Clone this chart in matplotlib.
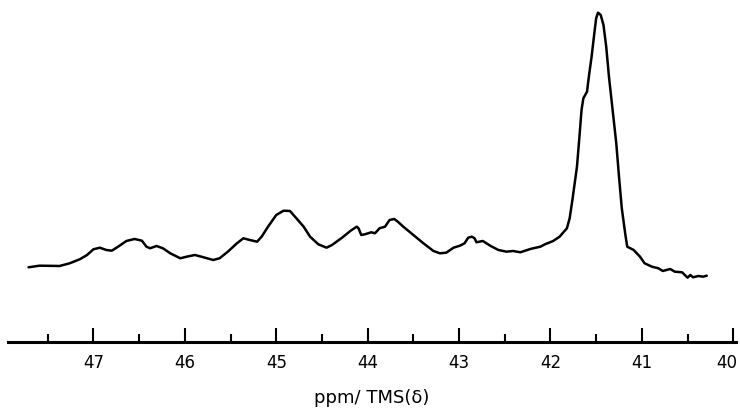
import matplotlib
matplotlib.use("Agg")
import matplotlib.pyplot as plt
import matplotlib.transforms as mtransforms
from matplotlib.ticker import MultipleLocator

# 13C spectrum (ppm vs TMS, intensity in arbitrary units)
ppm = [47.71, 47.59, 47.37, 47.26, 47.15, 47.07, 47.00, 46.93, 46.86, 46.80,
       46.73, 46.64, 46.55, 46.47, 46.42, 46.38, 46.31, 46.24, 46.16, 46.05,
       45.98, 45.89, 45.82, 45.69, 45.62, 45.53, 45.43, 45.36, 45.29, 45.21,
       45.16, 45.09, 45.00, 44.92, 44.85, 44.78, 44.70, 44.63, 44.54, 44.45,
       44.39, 44.28, 44.19, 44.12, 44.10, 44.07, 44.03, 43.96, 43.92, 43.87,
       43.81, 43.76, 43.71, 43.67, 43.61, 43.50, 43.39, 43.28, 43.21, 43.14,
       43.06, 42.99, 42.94, 42.90, 42.86, 42.83, 42.81, 42.74, 42.66, 42.57,
       42.48, 42.41, 42.33, 42.22, 42.11, 42.06, 41.97, 41.90, 41.82, 41.79,
       41.76, 41.71, 41.68, 41.66, 41.64, 41.60, 41.58, 41.55, 41.52, 41.50,
       41.48, 41.45, 41.42, 41.39, 41.36, 41.32, 41.28, 41.25, 41.22, 41.18,
       41.16, 41.09, 41.02, 40.97, 40.89, 40.82, 40.77, 40.69, 40.64, 40.56,
       40.53, 40.50, 40.47, 40.44, 40.38, 40.33, 40.29]
intensity = [74.7, 76.3, 76.0, 78.7, 82.7, 87.0, 92.7, 94.3, 92.0, 91.3,
             95.3, 101.0, 103.0, 101.3, 95.3, 93.7, 96.0, 93.7, 88.7, 83.7,
             85.3, 87.0, 85.3, 82.0, 83.7, 90.3, 98.7, 103.7, 102.0, 100.3,
             105.3, 115.3, 127.0, 131.3, 131.0, 123.7, 115.3, 105.3, 97.7, 94.3,
             97.0, 104.3, 111.0, 115.3, 113.7, 107.0, 107.7, 109.7, 108.7, 113.7,
             115.3, 122.0, 123.0, 120.3, 115.3, 107.0, 98.7, 91.0, 88.7, 89.3,
             94.3, 96.3, 98.7, 104.3, 105.3, 103.7, 99.7, 101.0, 96.3, 92.0,
             90.3, 91.0, 89.7, 93.0, 95.3, 97.7, 101.0, 105.3, 113.7, 123.7,
             142.0, 175.3, 208.7, 232.0, 243.7, 250.3, 265.3, 285.3, 308.7, 323.7,
             329.3, 327.0, 317.0, 295.3, 265.3, 232.0, 198.7, 165.3, 134.0, 107.0,
             95.3, 92.0, 85.3, 78.7, 75.3, 73.7, 71.0, 73.0, 70.3, 69.7,
             67.0, 64.3, 67.0, 64.7, 66.0, 65.3, 66.3]

major_ticks = [47, 46, 45, 44, 43, 42, 41, 40]
tick_labels = ["47", "46", "45", "44", "43", "42", "41", "40"]

fig = plt.figure(figsize=(7.4, 4.08), dpi=100)
ax = fig.add_axes([0.0108, 0.1618, 0.9838, 0.826])

ax.plot(ppm, intensity, color="black", lw=1.8,
        solid_joinstyle="round", solid_capstyle="round")

ax.set_xlim(47.935, 39.97)
ax.set_ylim(0, 337)

for side in ["top", "left", "right"]:
    ax.spines[side].set_visible(False)
ax.spines["bottom"].set_linewidth(2.2)
ax.set_yticks([])

ax.set_xticks(major_ticks)
ax.set_xticklabels(tick_labels)
ax.xaxis.set_minor_locator(MultipleLocator(0.5))
ax.tick_params(axis="x", which="major", direction="in", length=10, width=1.5,
               pad=9, labelsize=12)
ax.tick_params(axis="x", which="minor", direction="in", length=6, width=1.5)
ax.set_xlabel("ppm/ TMS(δ)", fontsize=13, labelpad=12)

# last label sits against the right edge, nudge it in a bit
last = ax.get_xticklabels()[-1]
last.set_transform(last.get_transform() +
                   mtransforms.ScaledTranslation(-7 / 100, 0, fig.dpi_scale_trans))

fig.savefig("out.png", dpi=100)
